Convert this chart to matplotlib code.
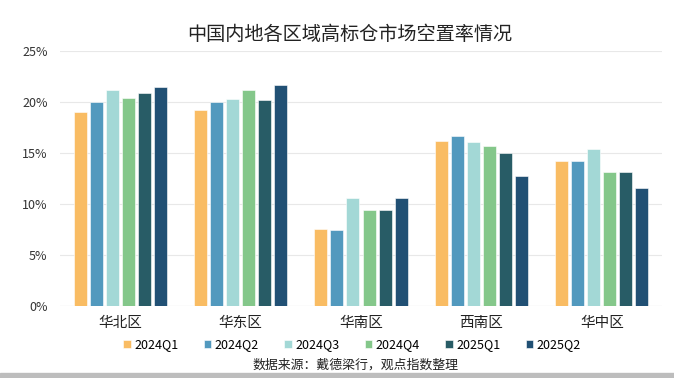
import matplotlib
matplotlib.use("Agg")
import matplotlib.pyplot as plt
import numpy as np
from matplotlib.patches import Rectangle
from matplotlib.ticker import FuncFormatter

plt.rcParams['font.family'] = ['Noto Sans CJK SC', 'DejaVu Sans']

regions = ['华北区', '华东区', '华南区', '西南区', '华中区']
series_names = ['2024Q1', '2024Q2', '2024Q3', '2024Q4', '2025Q1', '2025Q2']
values = {
    '2024Q1': [19.0, 19.2, 7.5, 16.2, 14.2],
    '2024Q2': [20.0, 20.0, 7.45, 16.6, 14.2],
    '2024Q3': [21.2, 20.3, 10.6, 16.1, 15.4],
    '2024Q4': [20.4, 21.2, 9.4, 15.7, 13.1],
    '2025Q1': [20.9, 20.2, 9.4, 15.0, 13.1],
    '2025Q2': [21.4, 21.6, 10.6, 12.7, 11.6],
}
colors = ['#F9BC63', '#5299BE', '#A3D8D6', '#84C78A', '#285C66', '#215074']
title = '中国内地各区域高标仓市场空置率情况'
source = '数据来源：戴德梁行，观点指数整理'

fig = plt.figure(figsize=(6.74, 3.78), dpi=100)
ax = fig.add_axes([60/674, 1-306/378, 602/674, (306-50.7)/378])

x = np.arange(len(regions))
pitch = 0.133
width = 0.108
n = len(series_names)
for i, (name, c) in enumerate(zip(series_names, colors)):
    off = (i - (n-1)/2) * pitch
    ax.bar(x + off, values[name], width=width, color=c, label=name,
           edgecolor='white', linewidth=0.4, zorder=3)

ax.set_xlim(-0.5, len(regions) - 0.5)
ax.set_ylim(0, 25)
ax.set_yticks([0, 5, 10, 15, 20, 25])
ax.yaxis.set_major_formatter(FuncFormatter(lambda v, p: f'{v:.0f}%'))
ax.grid(axis='y', color='#E8E8E8', linewidth=0.8, zorder=0)
for s in ax.spines.values():
    s.set_visible(False)
ax.tick_params(axis='y', length=0, labelsize=9, colors='#333333', pad=9)
ax.tick_params(axis='x', length=0, labelsize=10.5, colors='#222222', pad=7)
ax.set_xticks(x)
ax.set_xticklabels(regions)
ax.axhline(0, color='#E0E0E0', linewidth=0.8, zorder=2)

fig.text(350/674, 1-35/378, title, ha='center', va='center', fontsize=13.8, color='#222222')

handles, labels = ax.get_legend_handles_labels()
fig.legend(handles, labels, loc='center', bbox_to_anchor=(352/674, 1-345/378), ncol=6,
           frameon=False, fontsize=9, handlelength=0.6, handleheight=0.6,
           handletextpad=0.3, columnspacing=2.0)

fig.text(355/674, 1-365/378, source, ha='center', va='center', fontsize=9.3, color='#222222')

fig.patches.append(Rectangle((0, 0), 1, 5/378, transform=fig.transFigure,
                             color='#BDBDBD', zorder=0))

fig.savefig('out.png', dpi=100)
